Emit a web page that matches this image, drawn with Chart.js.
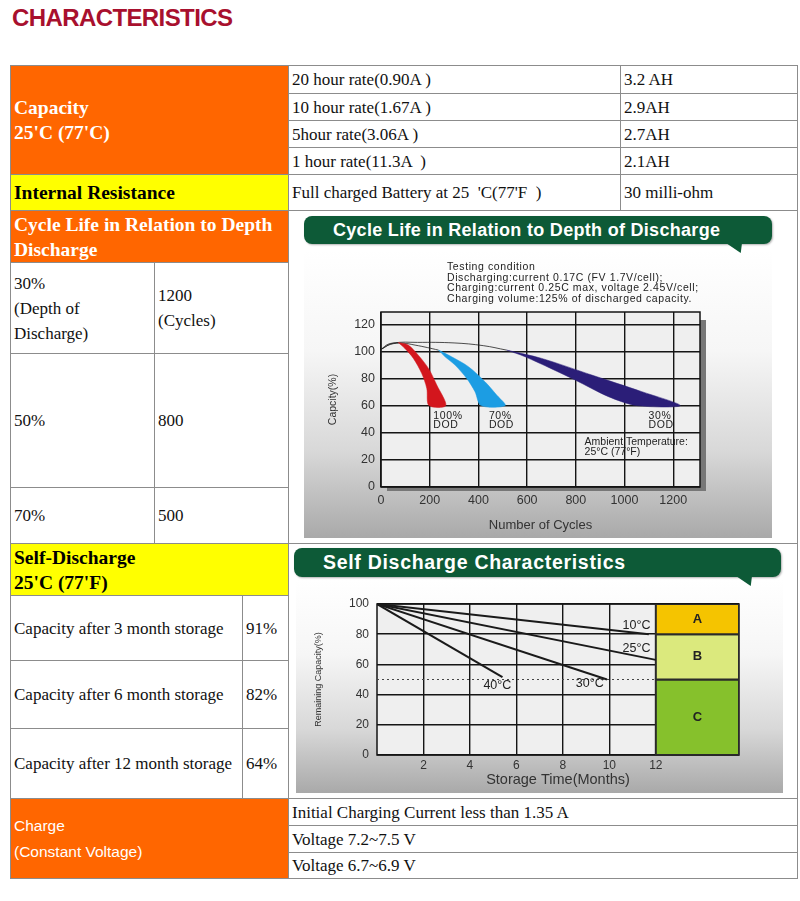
<!DOCTYPE html>
<html>
<head>
<meta charset="utf-8">
<script src="https://cdn.jsdelivr.net/npm/chart.js@4.4.1/dist/chart.umd.min.js"></script>
<style>
    body { margin: 0; width: 800px; height: 901px; position: relative; overflow: hidden; background: #fff;
           font-family: "Liberation Serif", "Times New Roman", serif; color: #111; }
    #title { position: absolute; left: 12px; top: 4px; font: bold 24px "Liberation Sans", Arial, sans-serif;
             color: #a8102e; letter-spacing: -0.6px; }
    .c { position: absolute; box-sizing: border-box; border: 1px solid #8c8c8c; display: flex; align-items: center;
         padding-left: 3px; font-size: 17px; line-height: 25px; background: #fff; }
    .or { background: #ff6600; color: #fff; font-weight: bold; font-size: 19.5px; }
    .ye { background: #ffff00; color: #000; font-weight: bold; font-size: 19.5px; }
    .sans { font-family: "Liberation Sans", Arial, sans-serif; font-weight: normal; font-size: 15.5px; line-height: 26px; }
    .banner { position: absolute; background: #0d5a37; color: #fff; border-radius: 8px; box-sizing: border-box;
              font: bold 18px "Liberation Sans", Arial, sans-serif; letter-spacing: 0.3px; display: flex; align-items: center;
              box-shadow: 1px 1px 2px rgba(0,0,0,0.3); }
    .tail { position: absolute; background: #0d5a37; clip-path: polygon(0 0, 100% 0, 92% 100%); }
    .panel { position: absolute; background: linear-gradient(#ffffff 0%, #f6f6f6 35%, #d8d8d8 70%, #a9a9a9 100%); }
    .panel div { position: absolute; }
</style>
</head>
<body>
<div id="title">CHARACTERISTICS</div>

<div class="c or" style="left:10px;top:65px;width:279px;height:110px;">Capacity<br>25'C (77'C)</div>
<div class="c" style="left:288px;top:65px;width:333px;height:29px;">20 hour rate(0.90A )</div>
<div class="c" style="left:620px;top:65px;width:178px;height:29px;">3.2 AH</div>
<div class="c" style="left:288px;top:93px;width:333px;height:28px;">10 hour rate(1.67A )</div>
<div class="c" style="left:620px;top:93px;width:178px;height:28px;">2.9AH</div>
<div class="c" style="left:288px;top:120px;width:333px;height:28px;">5hour rate(3.06A )</div>
<div class="c" style="left:620px;top:120px;width:178px;height:28px;">2.7AH</div>
<div class="c" style="left:288px;top:147px;width:333px;height:28px;">1 hour rate(11.3A &nbsp;)</div>
<div class="c" style="left:620px;top:147px;width:178px;height:28px;">2.1AH</div>

<div class="c ye" style="left:10px;top:174px;width:279px;height:37px;">Internal Resistance</div>
<div class="c" style="left:288px;top:174px;width:333px;height:37px;">Full charged Battery at 25 &nbsp;'C(77'F &nbsp;)</div>
<div class="c" style="left:620px;top:174px;width:178px;height:37px;">30 milli-ohm</div>

<div class="c or" style="left:10px;top:210px;width:279px;height:53px;">Cycle Life in Relation to Depth Discharge</div>
<div class="c" style="left:10px;top:262px;width:145px;height:92px;">30%<br>(Depth of<br>Discharge)</div>
<div class="c" style="left:154px;top:262px;width:135px;height:92px;">1200<br>(Cycles)</div>
<div class="c" style="left:10px;top:353px;width:145px;height:135px;">50%</div>
<div class="c" style="left:154px;top:353px;width:135px;height:135px;">800</div>
<div class="c" style="left:10px;top:487px;width:145px;height:57px;">70%</div>
<div class="c" style="left:154px;top:487px;width:135px;height:57px;">500</div>
<div class="c" style="left:288px;top:210px;width:510px;height:334px;"></div>

<div class="c ye" style="left:10px;top:543px;width:279px;height:53px;">Self-Discharge<br>25'C (77'F)</div>
<div class="c" style="left:10px;top:595px;width:233px;height:66px;">Capacity after 3 month storage</div>
<div class="c" style="left:242px;top:595px;width:47px;height:66px;">91%</div>
<div class="c" style="left:10px;top:660px;width:233px;height:69px;">Capacity after 6 month storage</div>
<div class="c" style="left:242px;top:660px;width:47px;height:69px;">82%</div>
<div class="c" style="left:10px;top:728px;width:233px;height:71px;">Capacity after 12 month storage</div>
<div class="c" style="left:242px;top:728px;width:47px;height:71px;">64%</div>
<div class="c" style="left:288px;top:543px;width:510px;height:256px;"></div>

<div class="c or sans" style="left:10px;top:798px;width:279px;height:81px;">Charge<br>(Constant Voltage)</div>
<div class="c" style="left:288px;top:798px;width:510px;height:28px;">Initial Charging Current less than 1.35 A</div>
<div class="c" style="left:288px;top:825px;width:510px;height:28px;">Voltage 7.2~7.5 V</div>
<div class="c" style="left:288px;top:852px;width:510px;height:27px;">Voltage 6.7~6.9 V</div>

<!-- chart panels -->
<div class="panel" style="left:304px;top:250px;width:468px;height:288px;">
    <div style="left:0;top:0;width:468px;height:288px;"><canvas id="cycleChart"></canvas></div>
</div>
<div class="banner" style="left:304px;top:216px;width:468px;height:28px;padding-left:29px;">Cycle Life in Relation to Depth of Discharge</div>
<div class="tail" style="left:726px;top:243px;width:16px;height:10px;"></div>

<div class="panel" style="left:296px;top:580px;width:487px;height:213px;">
    <div style="left:0;top:3px;width:487px;height:210px;"><canvas id="selfChart"></canvas></div>
</div>
<div class="banner" style="left:294px;top:548px;width:487px;height:29px;padding-left:29px;font-size:19.5px;letter-spacing:0.7px;">Self Discharge Characteristics</div>
<div class="tail" style="left:736px;top:576px;width:16px;height:10px;"></div>

<script>
    // Cycle life chart data
    const cycleTicks = [0, 200, 400, 600, 800, 1000, 1200];
    const cycleCapTicks = [0, 20, 40, 60, 80, 100, 120];
    const dodNames = ['100%', '70%', '30%'];
    const dod100Outer = [[71, 106.5], [112, 104.6], [153, 97.2], [195, 87.4], [229, 75.2], [266, 60]];
    const dod100Inner = [[197, 60], [188, 72.7], [167, 83.8], [133, 94.8], [99, 102]];
    const dod70Outer = [[236, 100.9], [290, 96], [359, 88.7], [427, 77.6], [475, 67.8], [510, 60]];
    const dod70Inner = [[411, 60], [386, 70.3], [352, 80], [304, 89.9], [263, 96]];
    const dod30Outer = [[516, 100.9], [660, 94.8], [866, 82.5], [1071, 70.3], [1229, 60]];
    const dod30Inner = [[1051, 60], [934, 66.6], [797, 78.9], [592, 96]];
    const trace100 = [[0, 101.4], [30, 105.3], [71, 106.5]];
    const trace70 = [[0, 101.4], [40, 105.2], [90, 106], [140, 104.6], [190, 102.8], [236, 100.9]];
    const trace30 = [[0, 101.4], [50, 106], [150, 106.6], [300, 106.2], [420, 104.2], [516, 100.9]];
    const testNotes = ['Testing condition',
        'Discharging:current 0.17C (FV 1.7V/cell);',
        'Charging:current 0.25C max, voltage 2.45V/cell;',
        'Charging volume:125% of discharged capacity.'];
    const ambientNote = ['Ambient Temperature:', '25\u00b0C (77\u00b0F)'];

    // Self discharge chart data
    const monthTicks = [2, 4, 6, 8, 10, 12];
    const remainTicks = [0, 20, 40, 60, 80, 100];
    const tempNames = ['10\u00b0C', '25\u00b0C', '30\u00b0C', '40\u00b0C'];
    const temp10 = [[0, 100], [11.7, 80]];
    const temp25 = [[0, 100], [12, 63]];
    const temp30 = [[0, 100], [9.9, 50]];
    const temp40 = [[0, 100], [5.4, 51.5]];
    const halfLine = [[0, 50], [12, 50]];
    const zoneNames = ['A', 'B', 'C'];
    const zoneHigh = [100, 80, 50];
    const zoneLow = [80, 50, 0];
    const zoneColors = ['#f5c400', '#dbe97d', '#86c12c'];
    const zoneStart = 12, monthMax = 15.58;

    const SANS = '"Liberation Sans", Arial, sans-serif';

    // plot background, shadow and frame
    const framePlugin = {
        id: 'frame',
        beforeDraw(chart, args, opts) {
            const {ctx, chartArea: a} = chart;
            ctx.save();
            if (opts.shadow) {
                ctx.fillStyle = '#777';
                ctx.fillRect(a.left + 6, a.top + 8, a.width, a.height - 4);
            }
            ctx.fillStyle = '#efefef';
            ctx.fillRect(a.left, a.top, a.width, a.height);
            ctx.restore();
        },
        beforeDatasetsDraw(chart) {
            const {ctx, chartArea: a} = chart;
            ctx.save();
            ctx.strokeStyle = '#151515';
            ctx.lineWidth = 1.5;
            ctx.strokeRect(a.left, a.top, a.width, a.height);
            ctx.restore();
        }
    };

    function pts(list) {
        return list.map(p => ({x: p[0], y: p[1]}));
    }

    function band(outer, inner, color) {
        return {
            data: pts(outer.concat(inner, [outer[0]])),
            backgroundColor: color, borderColor: color, borderWidth: 0.5,
            fill: 'shape', tension: 0.3, pointRadius: 0
        };
    }

    function trace(list) {
        return {data: pts(list), borderColor: '#222', borderWidth: 0.8, fill: false, tension: 0.4, pointRadius: 0};
    }

    const cycleNotes = {
        id: 'cycleNotes',
        afterDatasetsDraw(chart) {
            const {ctx, chartArea: a, scales: {x, y}} = chart;
            ctx.save();
            ctx.fillStyle = '#222';
            ctx.font = '10.5px ' + SANS;
            ctx.textBaseline = 'middle';
            ctx.letterSpacing = '0.6px';
            testNotes.forEach((t, i) => ctx.fillText(t, a.left + 66, a.top - 45 + i * 10.8));
            ctx.font = '10.5px ' + SANS;
            const labelX = [215, 443, 1099];
            dodNames.forEach((n, i) => {
                ctx.fillText(n, x.getPixelForValue(labelX[i]), y.getPixelForValue(52.6));
                ctx.fillText('DOD', x.getPixelForValue(labelX[i]), y.getPixelForValue(45.6));
            });
            ctx.letterSpacing = '0px';
            ctx.font = '10.5px ' + SANS;
            ctx.fillText(ambientNote[0], x.getPixelForValue(836), y.getPixelForValue(33));
            ctx.fillText(ambientNote[1], x.getPixelForValue(836), y.getPixelForValue(25.4));
            ctx.restore();
        }
    };

    new Chart(document.getElementById('cycleChart'), {
        type: 'line',
        data: {
            datasets: [
                band(dod100Outer, dod100Inner, '#d3161d'),
                band(dod70Outer, dod70Inner, '#1c9de3'),
                band(dod30Outer, dod30Inner, '#2b1e78'),
                trace(trace100),
                trace(trace70),
                trace(trace30)
            ]
        },
        options: {
            responsive: true,
            maintainAspectRatio: false,
            animation: false,
            layout: {padding: {left: 23, top: 62, right: 72, bottom: 3}},
            plugins: {legend: {display: false}, tooltip: {enabled: false}, frame: {shadow: true}},
            scales: {
                x: {
                    type: 'linear', min: 0, max: 1310,
                    afterBuildTicks: s => { s.ticks = cycleTicks.map(v => ({value: v})); },
                    afterFit: s => { s.height = 48; },
                    grid: {color: '#151515', lineWidth: 1.4, drawTicks: false},
                    border: {display: false},
                    ticks: {color: '#333', padding: 6, font: {family: SANS, size: 12.5}, callback: v => String(v)},
                    title: {display: true, text: 'Number of Cycles', color: '#333',
                            padding: {top: 0, bottom: 2}, font: {family: SANS, size: 13}}
                },
                y: {
                    type: 'linear', min: 0, max: 129,
                    afterBuildTicks: s => { s.ticks = cycleCapTicks.map(v => ({value: v})); },
                    afterFit: s => { s.width = 54; },
                    grid: {color: '#151515', lineWidth: 1.4, drawTicks: false},
                    border: {display: false},
                    ticks: {color: '#333', padding: 6, font: {family: SANS, size: 12.5}},
                    title: {display: true, text: 'Capcity(%)', color: '#333',
                            padding: 0, font: {family: SANS, size: 10.5}}
                }
            }
        },
        plugins: [framePlugin, cycleNotes]
    });

    function zone(i) {
        return {
            data: pts([[zoneStart, zoneLow[i]], [monthMax, zoneLow[i]], [monthMax, zoneHigh[i]],
                       [zoneStart, zoneHigh[i]], [zoneStart, zoneLow[i]]]),
            backgroundColor: zoneColors[i], borderColor: '#2a2a2a', borderWidth: 2,
            fill: 'shape', tension: 0, pointRadius: 0
        };
    }

    function tempLine(list) {
        return {data: pts(list), borderColor: '#1a1a1a', borderWidth: 2, fill: false, tension: 0, pointRadius: 0};
    }

    const selfNotes = {
        id: 'selfNotes',
        afterDatasetsDraw(chart) {
            const {ctx, scales: {x, y}} = chart;
            ctx.save();
            ctx.fillStyle = '#222';
            ctx.textAlign = 'center';
            ctx.textBaseline = 'middle';
            ctx.font = '12.5px ' + SANS;
            const spots = [[11.17, 85.6], [11.17, 70.8], [9.16, 47.6], [5.18, 46]];
            tempNames.forEach((t, i) => ctx.fillText(t, x.getPixelForValue(spots[i][0]), y.getPixelForValue(spots[i][1])));
            ctx.font = 'bold 13px ' + SANS;
            zoneNames.forEach((z, i) => ctx.fillText(z, x.getPixelForValue((zoneStart + monthMax) / 2),
                y.getPixelForValue((zoneLow[i] + zoneHigh[i]) / 2)));
            ctx.restore();
        }
    };

    new Chart(document.getElementById('selfChart'), {
        type: 'line',
        data: {
            datasets: [
                {data: pts(halfLine), borderColor: '#444', borderWidth: 1, borderDash: [2, 3], fill: false, pointRadius: 0},
                tempLine(temp10),
                tempLine(temp25),
                tempLine(temp30),
                tempLine(temp40),
                zone(0), zone(1), zone(2)
            ]
        },
        options: {
            responsive: true,
            maintainAspectRatio: false,
            animation: false,
            layout: {padding: {left: 17, top: 21, right: 44, bottom: 0}},
            plugins: {legend: {display: false}, tooltip: {enabled: false}, frame: {shadow: false}},
            scales: {
                x: {
                    type: 'linear', min: 0, max: monthMax,
                    afterBuildTicks: s => { s.ticks = monthTicks.map(v => ({value: v})); },
                    afterFit: s => { s.height = 38; },
                    grid: {color: '#151515', lineWidth: 1.4, drawTicks: false},
                    border: {display: false},
                    ticks: {color: '#333', padding: 3, font: {family: SANS, size: 12}},
                    title: {display: true, text: 'Storage Time(Months)', color: '#333',
                            padding: {top: 0, bottom: 4}, font: {family: SANS, size: 14.5}}
                },
                y: {
                    type: 'linear', min: 0, max: 100,
                    afterBuildTicks: s => { s.ticks = remainTicks.map(v => ({value: v})); },
                    afterFit: s => { s.width = 64; },
                    grid: {color: '#151515', lineWidth: 1.4, drawTicks: false},
                    border: {display: false},
                    ticks: {color: '#333', padding: 8, font: {family: SANS, size: 12}},
                    title: {display: true, text: 'Remaining Capacity(%)', color: '#333',
                            padding: 0, font: {family: SANS, size: 9}}
                }
            }
        },
        plugins: [framePlugin, selfNotes]
    });
</script>
</body>
</html>
